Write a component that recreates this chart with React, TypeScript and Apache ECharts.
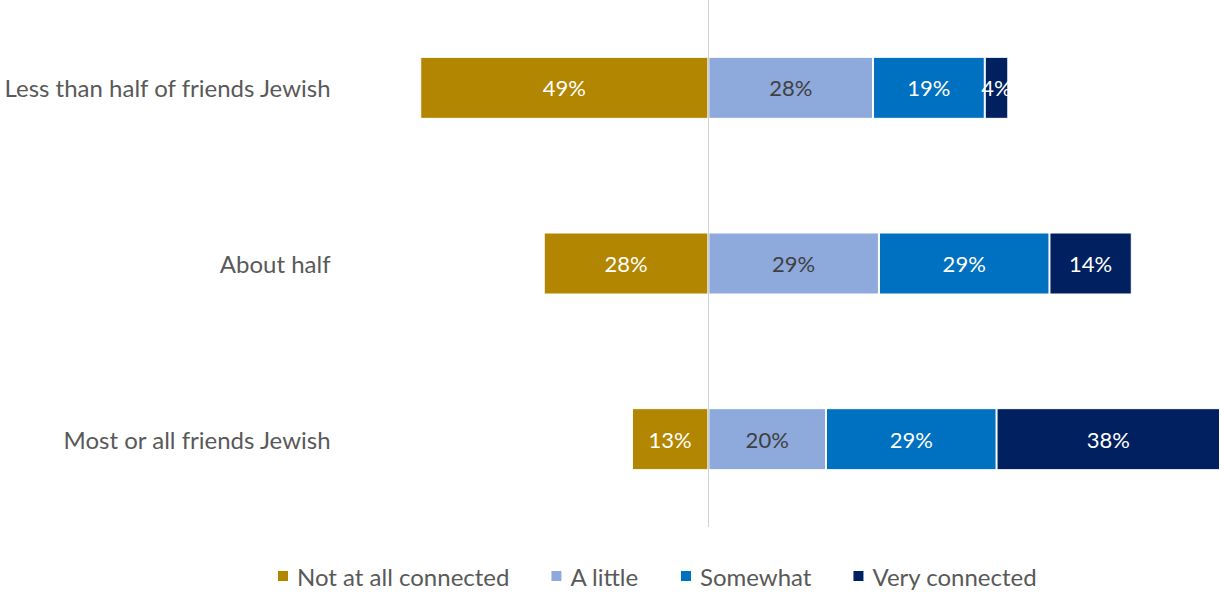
import React, { useEffect, useRef } from "react";
import * as echarts from "echarts";

const categories = ["Less than half of friends Jewish", "About half", "Most or all friends Jewish"];
const notAtAll = [49, 28, 13];
const aLittle = [28, 29, 20];
const somewhat = [19, 29, 29];
const veryConnected = [4, 14, 38];
const seriesNames = ["Not at all connected", "A little", "Somewhat", "Very connected"];
const colors = ["#B38600", "#8EA9DB", "#0070C0", "#002060"];
const labelColors = ["#FFFFFF", "#404040", "#FFFFFF", "#FFFFFF"];

const FONT = "Lato, 'Open Sans', sans-serif";

export default function App() {
  const ref = useRef<HTMLDivElement>(null);
  useEffect(() => {
    const chart = echarts.init(ref.current!, null, { renderer: "svg" });
    const dataSets = [notAtAll.map((v) => -v), aLittle, somewhat, veryConnected];
    const series: any[] = dataSets.map((d, i) => ({
      name: seriesNames[i],
      type: "bar",
      stack: "total",
      barWidth: 62,
      data: d,
      itemStyle: { color: colors[i], borderColor: "#FFFFFF", borderWidth: 1 },
      label: {
        show: true,
        position: "inside",
        color: labelColors[i],
        fontSize: 22,
        fontFamily: FONT,
        formatter: (p: any) => Math.abs(p.value) + "%",
      },
    }));
    series[0].markLine = {
      silent: true,
      symbol: "none",
      label: { show: false },
      lineStyle: { color: "#D0D0D0", width: 1, type: "solid" },
      data: [{ xAxis: 0 }],
    };
    chart.setOption({
      animation: false,
      color: colors,
      grid: { left: 355, right: 1, top: 0, height: 527 },
      xAxis: {
        type: "value",
        min: -60,
        max: 87,
        show: false,
      },
      yAxis: {
        type: "category",
        data: categories,
        inverse: true,
        axisLine: { show: false },
        axisTick: { show: false },
        axisLabel: { fontSize: 24, color: "#595959", fontFamily: FONT, margin: 25 },
      },
      legend: {
        left: 276,
        top: 564,
        padding: 0,
        itemWidth: 12,
        itemHeight: 12,
        itemGap: 40,
        icon: "rect",
        textStyle: { fontSize: 24, color: "#595959", fontFamily: FONT, padding: [0, 0, 0, 3] },
        data: seriesNames,
      },
      series,
    });
    return () => chart.dispose();
  }, []);
  return (
    <div
      ref={ref}
      style={{ position: "absolute", left: 0, top: 0, width: 1221, height: 595 }}
    />
  );
}
